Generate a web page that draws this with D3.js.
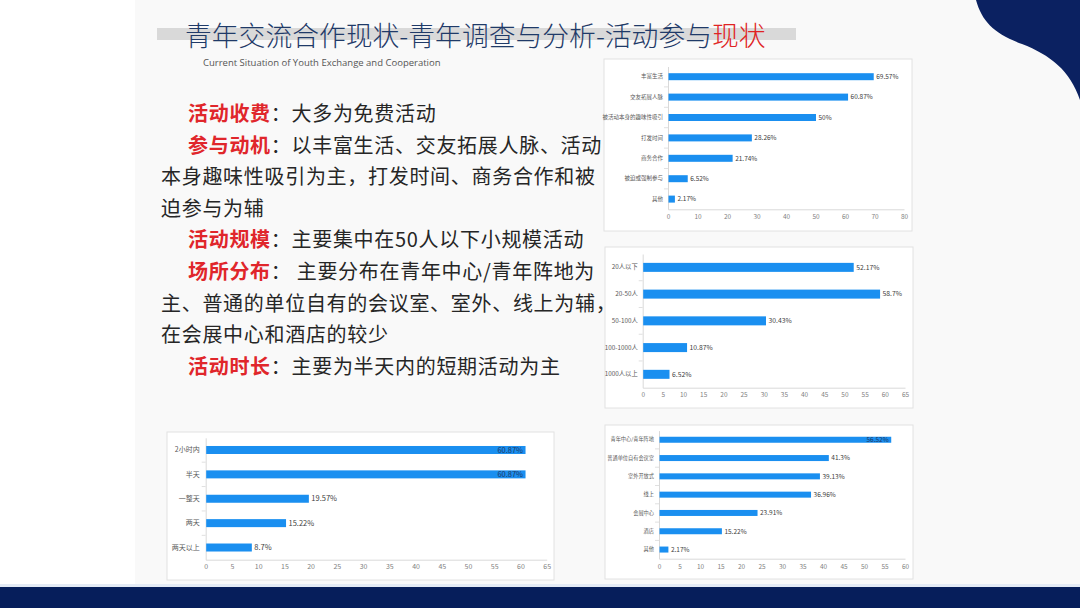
<!DOCTYPE html>
<html>
<head>
<meta charset="utf-8">
<script src="https://cdn.jsdelivr.net/npm/d3@7"></script>
<style>
  html, body { margin: 0; padding: 0; background: #fff; }
  svg { display: block; font-family: "Noto Sans CJK SC", "Noto Sans", sans-serif; }
</style>
</head>
<body>
<div id="slide"></div>
<script>
// --- data ---
const motiveCats = ["丰富生活", "交友拓展人脉", "被活动本身的趣味性吸引", "打发时间", "商务合作", "被迫或强制参与", "其他"];
const motiveVals = [69.57, 60.87, 50, 28.26, 21.74, 6.52, 2.17];
const motiveTicks = [0, 10, 20, 30, 40, 50, 60, 70, 80];

const sizeCats = ["20人以下", "20-50人", "50-100人", "100-1000人", "1000人以上"];
const sizeVals = [52.17, 58.7, 30.43, 10.87, 6.52];
const sizeTicks = [0, 5, 10, 15, 20, 25, 30, 35, 40, 45, 50, 55, 60, 65];

const venueCats = ["青年中心/青年阵地", "普通单位自有会议室", "室外开放式", "线上", "会展中心", "酒店", "其他"];
const venueVals = [56.52, 41.3, 39.13, 36.96, 23.91, 15.22, 2.17];
const venueTicks = [0, 5, 10, 15, 20, 25, 30, 35, 40, 45, 50, 55, 60];

const durationCats = ["2小时内", "半天", "一整天", "两天", "两天以上"];
const durationVals = [60.87, 60.87, 19.57, 15.22, 8.7];
const durationTicks = [0, 5, 10, 15, 20, 25, 30, 35, 40, 45, 50, 55, 60, 65];

// left-hand summary text (label in red, then body)
const notes = [
  { label: "活动收费", text: "大多为免费活动" },
  { label: "参与动机", text: "以丰富生活、交友拓展人脉、活动" },
  { text: "本身趣味性吸引为主，打发时间、商务合作和被" },
  { text: "迫参与为辅" },
  { label: "活动规模", text: "主要集中在50人以下小规模活动" },
  { label: "场所分布", text: " 主要分布在青年中心/青年阵地为" },
  { text: "主、普通的单位自有的会议室、室外、线上为辅，" },
  { text: "在会展中心和酒店的较少" },
  { label: "活动时长", text: "主要为半天内的短期活动为主" }
];

const W = 1080, H = 608;
const BAR = "#1a8ff0";

const svg = d3.select("#slide").append("svg")
  .attr("width", W)
  .attr("height", H);

// --- background pieces ---
svg.append("rect").attr("width", W).attr("height", H).attr("fill", "#fff");
svg.append("rect").attr("x", 135).attr("y", 0).attr("width", W - 135).attr("height", 586).attr("fill", "#f9f9f9");

// navy swoosh top right
svg.append("path")
  .attr("d", "M976,0 C982,22 995,34 1022,44 C1050,55 1070,70 1080,100 L1080,0 Z")
  .attr("fill", "#0b2161");

// bottom band
svg.append("rect").attr("x", 0).attr("y", 584).attr("width", W).attr("height", 3).attr("fill", "#e4ebf5");
svg.append("rect").attr("x", 0).attr("y", 587).attr("width", W).attr("height", H - 587).attr("fill", "#061e5b");

// --- title ---
svg.append("rect").attr("x", 157).attr("y", 28).attr("width", 639).attr("height", 12).attr("fill", "#d9d9d9");
const title = svg.append("text")
  .attr("x", 185).attr("y", 46)
  .style("font-size", "26.8px")
  .style("font-weight", 300)
  .attr("fill", "#1f3a68");
title.append("tspan").text("青年交流合作现状-青年调查与分析-活动参与");
title.append("tspan").attr("fill", "#e02323").text("现状");

svg.append("text")
  .attr("x", 203).attr("y", 66)
  .style("font-family", "'Open Sans', sans-serif")
  .style("font-size", "9.5px")
  .attr("fill", "#555")
  .text("Current Situation of Youth Exchange and Cooperation");

// --- summary text ---
const noteTop = 114, noteStep = 31.6;
notes.forEach((n, i) => {
  const t = svg.append("text")
    .attr("x", n.label ? 188 : 161)
    .attr("y", noteTop + i * noteStep + 7)
    .style("font-size", "20px")
    .style("letter-spacing", "0.7px")
    .attr("fill", "#262626");
  if (n.label) {
    t.append("tspan").attr("fill", "#e0262b").style("font-weight", "bold").text(n.label);
    t.append("tspan").text("：");
  }
  t.append("tspan").text(n.text);
});

// --- bar chart helper ---
function barChart(cfg) {
  const g = svg.append("g");

  g.append("rect")
    .attr("x", cfg.box[0]).attr("y", cfg.box[1])
    .attr("width", cfg.box[2]).attr("height", cfg.box[3])
    .attr("fill", "#fff")
    .attr("stroke", "#e2e2e2")
    .attr("stroke-width", 1);

  const x = d3.scaleLinear().domain([0, cfg.max]).range([cfg.x0, cfg.x1]);
  const y = d3.scaleBand().domain(cfg.cats).range([cfg.y0, cfg.y1]);
  const bh = cfg.barH;

  // x axis
  const xa = g.append("g")
    .attr("transform", `translate(0,${cfg.y1})`)
    .call(d3.axisBottom(x).tickValues(cfg.ticks).tickSize(0).tickPadding(cfg.tickPad));
  xa.select(".domain").attr("stroke", "#d9d9d9");
  xa.selectAll("text")
    .attr("fill", "#7f7f7f")
    .style("font-size", cfg.tickFont + "px")
    .style("font-family", "'Noto Sans CJK SC', sans-serif");

  // y axis
  const ya = g.append("g")
    .attr("transform", `translate(${cfg.x0},0)`)
    .call(d3.axisLeft(y).tickSize(0).tickPadding(cfg.labPad));
  ya.select(".domain").attr("stroke", "#d9d9d9");
  ya.selectAll("text")
    .attr("fill", "#595959")
    .style("font-size", cfg.catFont + "px")
    .style("font-family", "'Noto Sans CJK SC', sans-serif");

  // small separators between categories
  g.selectAll("line.sep")
    .data(cfg.cats.slice(1))
    .join("line")
    .attr("class", "sep")
    .attr("x1", cfg.x0 - 4).attr("x2", cfg.x0)
    .attr("y1", d => y(d)).attr("y2", d => y(d))
    .attr("stroke", "#e0e0e0");

  const rows = cfg.cats.map((c, i) => ({ c, v: cfg.vals[i] }));

  g.selectAll("rect.bar")
    .data(rows)
    .join("rect")
    .attr("class", "bar")
    .attr("x", x(0) + 0.5)
    .attr("y", d => y(d.c) + (y.bandwidth() - bh) / 2)
    .attr("width", d => x(d.v) - x(0))
    .attr("height", bh)
    .attr("fill", BAR);

  g.selectAll("text.val")
    .data(rows)
    .join("text")
    .attr("class", "val")
    .attr("x", d => d.v >= cfg.insideFrom ? x(d.v) - 2 : x(d.v) + 3)
    .attr("y", d => y(d.c) + y.bandwidth() / 2)
    .attr("dy", "0.35em")
    .attr("text-anchor", d => d.v >= cfg.insideFrom ? "end" : "start")
    .attr("fill", d => d.v >= cfg.insideFrom ? "#1f3864" : "#404040")
    .style("font-size", cfg.valFont + "px")
    .text(d => d.v + "%");
}

// motivation
barChart({
  box: [604, 59, 308, 172],
  cats: motiveCats, vals: motiveVals, ticks: motiveTicks, max: 80,
  x0: 668, x1: 904, y0: 66.5, y1: 209.3, barH: 7,
  catFont: 5.5, valFont: 6.5, tickFont: 6.5, tickPad: 5, labPad: 5,
  insideFrom: Infinity
});

// size
barChart({
  box: [605, 247, 308, 161],
  cats: sizeCats, vals: sizeVals, ticks: sizeTicks, max: 65,
  x0: 642.7, x1: 905, y0: 254, y1: 387.7, barH: 9,
  catFont: 6.3, valFont: 6.8, tickFont: 6.5, tickPad: 5, labPad: 5,
  insideFrom: Infinity
});

// venue
barChart({
  box: [605, 425, 308, 154],
  cats: venueCats, vals: venueVals, ticks: venueTicks, max: 60,
  x0: 659, x1: 905, y0: 430.6, y1: 558.7, barH: 6,
  catFont: 5.2, valFont: 6.5, tickFont: 6.5, tickPad: 5.5, labPad: 5,
  insideFrom: 50
});

// duration
barChart({
  box: [167, 432, 387, 148],
  cats: durationCats, vals: durationVals, ticks: durationTicks, max: 65,
  x0: 205.7, x1: 546.7, y0: 437.8, y1: 559.7, barH: 8,
  catFont: 7, valFont: 7.5, tickFont: 7, tickPad: 4.5, labPad: 6,
  insideFrom: 60
});
</script>
</body>
</html>
